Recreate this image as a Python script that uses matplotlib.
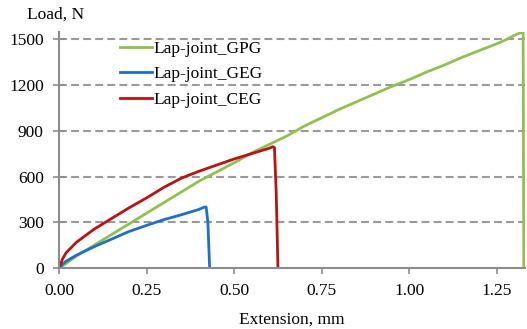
import matplotlib
matplotlib.use("Agg")
import matplotlib.pyplot as plt

# Data
gpg_x = [0, 0.02, 0.05, 0.1, 0.15, 0.2, 0.25, 0.3, 0.35, 0.4, 0.45, 0.5, 0.55, 0.6, 0.65, 0.7,
         0.75, 0.8, 0.85, 0.9, 0.95, 1.0, 1.05, 1.1, 1.15, 1.2, 1.25, 1.28, 1.3, 1.315, 1.325, 1.326, 1.327]
gpg_y = [0, 30, 80, 150, 220, 290, 360, 430, 500, 570, 630, 690, 755, 810, 865, 930,
         985, 1040, 1090, 1140, 1190, 1235, 1285, 1330, 1380, 1425, 1470, 1500, 1525, 1540, 1545, 700, 0]

geg_x = [0, 0.01, 0.02, 0.05, 0.1, 0.15, 0.2, 0.25, 0.3, 0.35, 0.4, 0.415, 0.42, 0.425, 0.43]
geg_y = [0, 25, 45, 85, 140, 190, 240, 280, 318, 350, 385, 400, 400, 300, 0]

ceg_x = [0, 0.01, 0.02, 0.05, 0.1, 0.15, 0.2, 0.25, 0.3, 0.35, 0.4, 0.45, 0.5, 0.55, 0.6, 0.61, 0.615, 0.62, 0.625]
ceg_y = [0, 60, 100, 170, 255, 325, 395, 460, 530, 590, 635, 675, 715, 750, 785, 795, 790, 500, 0]

x_ticks = [0.0, 0.25, 0.5, 0.75, 1.0, 1.25]
x_labels = ["0.00", "0.25", "0.50", "0.75", "1.00", "1.25"]
y_ticks = [0, 300, 600, 900, 1200, 1500]

green = "#92C050"
blue = "#1F6FC8"
red = "#B81414"
grey = "#8C8C8C"

plt.rcParams['font.family'] = ['Liberation Serif', 'DejaVu Serif']
fs = 12.5

fig = plt.figure(figsize=(5.27, 3.29), dpi=100)
ax = fig.add_axes([0.112, 0.185, 0.884, 0.717])

ax.plot(gpg_x, gpg_y, color=green, lw=2, label="Lap-joint_GPG")
ax.plot(geg_x, geg_y, color=blue, lw=2, label="Lap-joint_GEG")
ax.plot(ceg_x, ceg_y, color=red, lw=2, label="Lap-joint_CEG")

ax.set_xlim(0, 1.33)
ax.set_ylim(0, 1545)
ax.set_xticks(x_ticks)
ax.set_xticklabels(x_labels)
ax.set_yticks(y_ticks)

for y in y_ticks[1:]:
    ax.axhline(y, color="#9A9A9A", lw=1.5, ls=(0, (3.8, 2.0)), zorder=0)

for s in ["top", "right"]:
    ax.spines[s].set_visible(False)
for s in ["left", "bottom"]:
    ax.spines[s].set_color(grey)
    ax.spines[s].set_linewidth(1.5)

ax.tick_params(axis="x", direction="out", length=4, width=1.2, color=grey, labelsize=fs, pad=7)
ax.tick_params(axis="y", direction="inout", length=8, width=1.2, color=grey, labelsize=fs, pad=7)

ax.set_xlabel("Extension, mm", fontsize=fs, labelpad=9)
fig.text(0.051, 0.955, "Load, N", fontsize=fs, ha="left", va="center")

leg = ax.legend(loc="upper left", bbox_to_anchor=(0.131, 0.965), frameon=False, fontsize=fs,
                handlelength=1.85, handletextpad=0.1, labelspacing=0.55, borderaxespad=0,
                borderpad=0)

fig.savefig("out.png", dpi=100)
